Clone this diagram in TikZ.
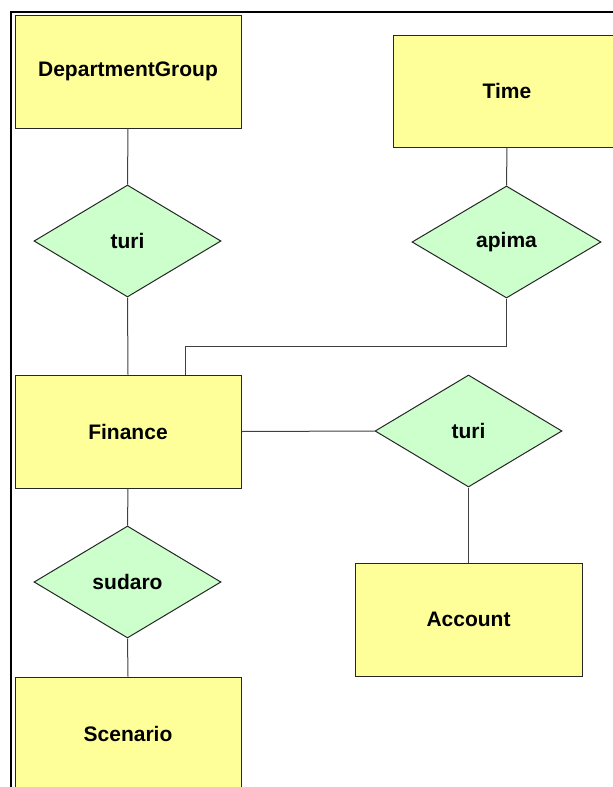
\documentclass[tikz,border=0pt]{standalone}
\usepackage{fontspec}
\setmainfont{Liberation Sans}
\usetikzlibrary{shapes.geometric}
\definecolor{entityfill}{HTML}{FFFF99}
\definecolor{relfill}{HTML}{CCFFCC}
\definecolor{edgegray}{HTML}{404040}
\begin{document}
\begin{tikzpicture}[x=1pt,y=-1pt,
  every node/.style={font=\fontsize{21}{24}\selectfont\bfseries, inner sep=0pt},
  entity/.style={draw=black!85, fill=entityfill, line width=1pt, rectangle,
    minimum width=226pt, minimum height=113pt},
  relation/.style={draw=black!85, fill=relfill, line width=1pt, diamond,
    minimum width=187pt, minimum height=112pt},
  link/.style={draw=edgegray, line width=1pt}]
\useasboundingbox (0,0) rectangle (613,787);

% outer frame, running off the right and bottom edges
\draw[line width=2.2pt] (11,790) -- (11,12) -- (620,12);

% entities
\node[entity] (dept) at (128,71.5) {DepartmentGroup};
\node[entity, minimum width=228pt, minimum height=112pt] (time) at (507,91) {Time};
\node[entity] (fin) at (128,431.5) {Finance};
\node[entity, minimum width=227pt] (acct) at (468.5,619.5) {Account};
\node[entity] (scen) at (128,733.5) {Scenario};

% relationships
\node[relation] (turiA) at (127.5,241) {turi};
\node[relation, minimum width=189pt] (apima) at (506.5,242) {apima};
\node[relation] (turiB) at (468.5,431) {turi};
\node[relation] (sudaro) at (127.5,582) {sudaro};

% connectors
\coordinate (bend) at (185,346);
\draw[link] (dept.south) -- (turiA.north);
\draw[link] (turiA.south) -- (fin.north);
\draw[link] (time.south) -- (apima.north);
\draw[link] (apima.south) |- (bend) -- (bend |- fin.north);
\draw[link] (fin.east) -- (turiB.west);
\draw[link] (turiB.south) -- (acct.north);
\draw[link] (fin.south) -- (sudaro.north);
\draw[link] (sudaro.south) -- (scen.north);
\end{tikzpicture}
\end{document}
